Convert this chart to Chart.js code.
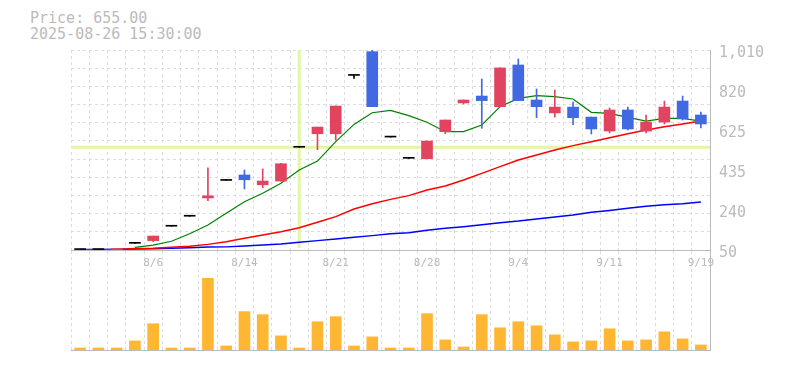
<!DOCTYPE html>
<html>
<head>
<meta charset="utf-8">
<script src="https://cdn.jsdelivr.net/npm/chart.js@4.4.1/dist/chart.umd.min.js"></script>
<style>
    html, body { margin: 0; padding: 0; background: #fff; }
    #wrap { position: relative; width: 785px; height: 370px; overflow: hidden; }
    .info { position: absolute; left: 30px; font: 15px 'DejaVu Sans Mono', monospace; color: #bbb; line-height: 16px; }
    #priceChart { position: absolute; left: 0; top: 0; z-index: 2; }
    #volumeChart { position: absolute; left: 0; top: 250px; z-index: 1; }
</style>
</head>
<body>
<div id="wrap">
    <div class="info" style="top: 10px;">Price: 655.00</div>
    <div class="info" style="top: 26px;">2025-08-26 15:30:00</div>
    <canvas id="priceChart" width="785" height="276"></canvas>
    <canvas id="volumeChart" width="785" height="101"></canvas>
</div>
<script>
// Trading days
const dates = ['7/31', '8/1', '8/4', '8/5', '8/6', '8/7', '8/8', '8/12', '8/13', '8/14',
    '8/15', '8/18', '8/19', '8/20', '8/21', '8/22', '8/25', '8/26', '8/27', '8/28',
    '8/29', '9/1', '9/2', '9/3', '9/4', '9/5', '9/8', '9/9', '9/10', '9/11',
    '9/12', '9/16', '9/17', '9/18', '9/19'];
const xTickLabels = ['8/6', '8/14', '8/21', '8/28', '9/4', '9/11', '9/19'];

// OHLC
const open  = [52, 52, 52, 82, 95, 164, 212, 300, 384, 410, 363, 381, 543, 608, 608, 888, 1002, 592, 490, 488, 618, 756, 789, 738, 938, 770, 708, 736, 688, 621, 722, 621, 664, 765, 698];
const high  = [52, 52, 55, 82, 117, 164, 212, 444, 384, 434, 439, 466, 543, 640, 741, 888, 1010, 592, 490, 573, 674, 770, 871, 924, 967, 823, 818, 760, 688, 732, 736, 698, 765, 789, 712];
const low   = [52, 52, 52, 82, 90, 164, 212, 287, 384, 343, 349, 380, 543, 531, 578, 874, 738, 592, 490, 488, 608, 751, 634, 738, 767, 685, 688, 651, 607, 612, 626, 612, 655, 674, 636];
const close = [52, 52, 55, 82, 117, 164, 212, 310, 384, 387, 381, 464, 543, 640, 741, 888, 738, 592, 490, 573, 674, 770, 767, 924, 767, 738, 736, 685, 631, 722, 631, 664, 736, 679, 655];

// Moving averages
const maShort = [null, null, null, 63, 73, 92, 128, 170, 226, 282, 322, 370, 434, 477, 570, 653, 709, 720, 695, 663, 618, 618, 650, 738, 778, 791, 786, 775, 711, 706, 687, 669, 682, 682, 669];
const maMid   = [50, 51, 53, 57, 58, 63, 68, 77, 90, 106, 122, 138, 157, 183, 210, 247, 272, 293, 311, 338, 357, 386, 418, 450, 482, 506, 530, 551, 570, 589, 608, 626, 642, 655, 669];
const maLong  = [52, 53, 54, 55, 56, 58, 61, 64, 65, 69, 74, 79, 87, 95, 103, 111, 119, 128, 133, 145, 154, 162, 171, 181, 189, 199, 208, 218, 231, 240, 250, 260, 267, 272, 280];

// Volume
const volume = [2000, 2000, 2000, 9000, 26000, 2000, 2000, 71000, 4000, 38000, 35000, 14000, 2000, 28000, 33000, 4000, 13000, 2000, 2000, 36000,
    10000, 3000, 35000, 22000, 28000, 24000, 15000, 8000, 9000, 21000, 9000, 10000, 18000, 11000, 5000];

// Price axis labels
const yTickValues = [50, 242, 434, 626, 818, 1010];
const yTickLabels = ['50', '240', '435', '625', '820', '1,010'];

// Crosshair
const crossIndex = 12;
const crossValue = close[12];

const colors = {
    up: '#e2445f',
    down: '#4169e1',
    flat: '#000000',
    maShort: '#008000',
    maMid: '#ff0000',
    maLong: '#0000ff',
    volume: '#ffb733',
    grid: '#dddddd',
    axis: '#bbbbbb',
    text: '#bbbbbb',
    cross: '#e4f5a8'
};

const candleColors = open.map((o, i) => close[i] > o ? colors.up : (close[i] < o ? colors.down : colors.flat));
const monoFont = "'DejaVu Sans Mono', monospace";

const crosshairPlugin = {
    id: 'crosshair',
    beforeDatasetsDraw(chart) {
        const { ctx, chartArea, scales } = chart;
        const x = scales.x.getPixelForValue(crossIndex);
        const y = scales.y.getPixelForValue(crossValue);
        ctx.save();
        ctx.strokeStyle = colors.cross;
        ctx.lineWidth = 3;
        ctx.beginPath();
        ctx.moveTo(x, chartArea.top);
        ctx.lineTo(x, chartArea.bottom - 2);
        ctx.moveTo(chartArea.left, y);
        ctx.lineTo(chartArea.right, y);
        ctx.stroke();
        ctx.restore();
    }
};

// Price chart
new Chart(document.getElementById('priceChart'), {
    type: 'bar',
    data: {
        labels: dates,
        datasets: [
            {
                type: 'bar',
                data: dates.map((d, i) => [open[i], close[i]]),
                backgroundColor: candleColors,
                barThickness: 11,
                minBarLength: 1,
                grouped: false,
                order: 0
            },
            {
                type: 'bar',
                data: dates.map((d, i) => [low[i], high[i]]),
                backgroundColor: candleColors,
                barThickness: 1,
                grouped: false,
                order: 1
            },
            {
                type: 'line',
                data: maShort,
                borderColor: colors.maShort,
                borderWidth: 1.2,
                pointRadius: 0,
                order: 2
            },
            {
                type: 'line',
                data: maMid,
                borderColor: colors.maMid,
                borderWidth: 1.5,
                pointRadius: 0,
                order: 3
            },
            {
                type: 'line',
                data: maLong,
                borderColor: colors.maLong,
                borderWidth: 1.5,
                pointRadius: 0,
                order: 4
            }
        ]
    },
    options: {
        responsive: false,
        animation: false,
        layout: { padding: { left: 71, top: 50, right: 0, bottom: 0 } },
        plugins: {
            legend: { display: false },
            tooltip: { enabled: false }
        },
        scales: {
            x: {
                grid: { color: colors.grid, drawTicks: false },
                border: { display: true, color: colors.axis, dash: [3, 3] },
                ticks: {
                    autoSkip: false,
                    maxRotation: 0,
                    padding: 7,
                    color: colors.text,
                    font: { family: monoFont, size: 11 },
                    callback: function(value, index) {
                        return xTickLabels.includes(dates[index]) ? dates[index] : '';
                    }
                },
                afterFit: function(scale) { scale.height = 26; }
            },
            y: {
                position: 'right',
                min: 50,
                max: 1010,
                grid: { display: false, drawTicks: false },
                border: { display: true, color: colors.axis },
                ticks: {
                    padding: 9,
                    labelOffset: 3,
                    color: colors.text,
                    font: { family: monoFont, size: 15 },
                    callback: function(value) {
                        const i = yTickValues.indexOf(value);
                        return i >= 0 ? yTickLabels[i] : '';
                    }
                },
                afterBuildTicks: function(scale) {
                    scale.ticks = yTickValues.map(v => ({ value: v }));
                },
                afterFit: function(scale) { scale.width = 75; }
            },
            yGrid: {
                position: 'left',
                min: 50,
                max: 1010,
                grid: { color: colors.grid, drawTicks: false },
                border: { display: false, dash: [3, 3] },
                ticks: { display: false },
                afterBuildTicks: function(scale) {
                    const steps = 11;
                    const ticks = [];
                    for (let k = 0; k <= steps; k++) {
                        ticks.push({ value: 50 + k * (1010 - 50) / steps });
                    }
                    scale.ticks = ticks;
                },
                afterFit: function(scale) { scale.width = 0; }
            }
        }
    },
    plugins: [crosshairPlugin]
});

// Volume chart
new Chart(document.getElementById('volumeChart'), {
    type: 'bar',
    data: {
        labels: dates,
        datasets: [{
            data: volume,
            backgroundColor: colors.volume,
            barThickness: 11
        }]
    },
    options: {
        responsive: false,
        animation: false,
        layout: { padding: { left: 71, top: 1, right: 0, bottom: 0 } },
        plugins: {
            legend: { display: false },
            tooltip: { enabled: false }
        },
        scales: {
            x: {
                grid: { color: colors.grid, drawTicks: false },
                border: { display: true, color: colors.axis, dash: [3, 3] },
                ticks: { display: false },
                afterFit: function(scale) { scale.height = 1; }
            },
            y: {
                position: 'right',
                min: 0,
                max: 98000,
                grid: { display: false, drawTicks: false },
                border: { display: true, color: colors.axis },
                ticks: { display: false },
                afterFit: function(scale) { scale.width = 75; }
            }
        }
    }
});
</script>
</body>
</html>
